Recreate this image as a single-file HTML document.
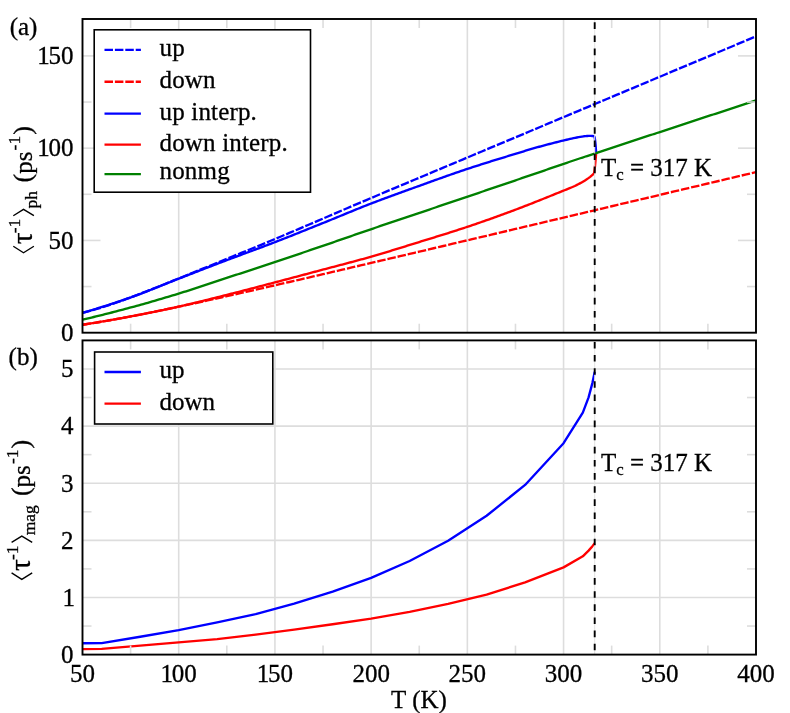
<!DOCTYPE html>
<html><head><meta charset="utf-8"><title>chart</title>
<style>html,body{margin:0;padding:0;background:#fff;}svg{display:block;font-family:"Liberation Serif",serif;will-change:transform;}text{font-family:"Liberation Serif",serif;fill:#000;stroke:#000;stroke-width:0.3px;}</style></head>
<body>
<svg width="790" height="713" viewBox="0 0 790 713">
<rect x="0" y="0" width="790" height="713" fill="#ffffff"/>
<defs>
<clipPath id="ca"><rect x="82.50" y="19.00" width="673.50" height="313.70"/></clipPath>
<clipPath id="cb"><rect x="82.50" y="340.40" width="673.50" height="314.20"/></clipPath>
</defs>
<g stroke="#dddddd" stroke-width="1.60" fill="none">
<line x1="178.71" y1="19.00" x2="178.71" y2="332.70"/>
<line x1="178.71" y1="340.40" x2="178.71" y2="654.60"/>
<line x1="274.93" y1="19.00" x2="274.93" y2="332.70"/>
<line x1="274.93" y1="340.40" x2="274.93" y2="654.60"/>
<line x1="371.14" y1="19.00" x2="371.14" y2="332.70"/>
<line x1="371.14" y1="340.40" x2="371.14" y2="654.60"/>
<line x1="467.36" y1="19.00" x2="467.36" y2="332.70"/>
<line x1="467.36" y1="340.40" x2="467.36" y2="654.60"/>
<line x1="563.57" y1="19.00" x2="563.57" y2="332.70"/>
<line x1="563.57" y1="340.40" x2="563.57" y2="654.60"/>
<line x1="659.79" y1="19.00" x2="659.79" y2="332.70"/>
<line x1="659.79" y1="340.40" x2="659.79" y2="654.60"/>
<line x1="82.50" y1="597.47" x2="756.00" y2="597.47"/>
<line x1="82.50" y1="540.35" x2="756.00" y2="540.35"/>
<line x1="82.50" y1="483.22" x2="756.00" y2="483.22"/>
<line x1="82.50" y1="426.09" x2="756.00" y2="426.09"/>
<line x1="82.50" y1="368.96" x2="756.00" y2="368.96"/>
</g>
<g clip-path="url(#ca)" fill="none" stroke-width="2.35" stroke-linejoin="round">
<path d="M82.50 312.76 L87.31 311.60 L92.12 310.33 L96.93 308.95 L101.74 307.49 L106.55 305.95 L111.36 304.35 L116.18 302.69 L120.99 300.98 L125.80 299.22 L130.61 297.44 L135.42 295.62 L140.23 293.77 L145.04 291.91 L149.85 290.02 L154.66 288.12 L159.47 286.20 L164.28 284.28 L169.09 282.34 L173.90 280.40 L178.71 278.45 L183.53 276.50 L188.34 274.54 L193.15 272.58 L197.96 270.62 L202.77 268.66 L207.58 266.70 L212.39 264.74 L217.20 262.78 L222.01 260.82 L226.82 258.86 L231.63 256.90 L236.44 254.93 L241.25 252.96 L246.06 250.99 L250.88 249.01 L255.69 247.03 L260.50 245.04 L265.31 243.04 L270.12 241.03 L274.93 239.02 L279.74 237.00 L284.55 234.97 L289.36 232.94 L294.17 230.89 L298.98 228.85 L303.79 226.79 L308.60 224.73 L313.41 222.67 L318.23 220.61 L323.04 218.55 L327.85 216.48 L332.66 214.42 L337.47 212.36 L342.28 210.30 L347.09 208.24 L351.90 206.19 L356.71 204.14 L361.52 202.09 L366.33 200.05 L371.14 198.01 L375.95 195.97 L380.76 193.94 L385.57 191.91 L390.39 189.88 L395.20 187.85 L400.01 185.82 L404.82 183.80 L409.63 181.78 L414.44 179.75 L419.25 177.73 L424.06 175.71 L428.87 173.69 L433.68 171.67 L438.49 169.65 L443.30 167.63 L448.11 165.61 L452.93 163.59 L457.74 161.57 L462.55 159.55 L467.36 157.53 L472.17 155.51 L476.98 153.49 L481.79 151.47 L486.60 149.45 L491.41 147.43 L496.22 145.42 L501.03 143.40 L505.84 141.38 L510.65 139.36 L515.46 137.34 L520.28 135.32 L525.09 133.30 L529.90 131.28 L534.71 129.26 L539.52 127.24 L544.33 125.22 L549.14 123.20 L553.95 121.18 L558.76 119.16 L563.57 117.15 L568.38 115.13 L573.19 113.11 L578.00 111.09 L582.81 109.07 L587.62 107.05 L592.44 105.03 L597.25 103.01 L602.06 100.99 L606.87 98.97 L611.68 96.95 L616.49 94.93 L621.30 92.91 L626.11 90.90 L630.92 88.88 L635.73 86.86 L640.54 84.84 L645.35 82.82 L650.16 80.80 L654.98 78.78 L659.79 76.76 L664.60 74.74 L669.41 72.72 L674.22 70.70 L679.03 68.68 L683.84 66.66 L688.65 64.64 L693.46 62.63 L698.27 60.61 L703.08 58.59 L707.89 56.57 L712.70 54.55 L717.51 52.53 L722.33 50.51 L727.14 48.49 L731.95 46.47 L736.76 44.45 L741.57 42.43 L746.38 40.41 L751.19 38.39 L756.00 36.38" stroke="#0000ff" stroke-dasharray="8.5 1.9"/>
<path d="M82.50 324.76 L87.31 324.02 L92.12 323.26 L96.93 322.47 L101.74 321.66 L106.55 320.84 L111.36 319.99 L116.18 319.13 L120.99 318.25 L125.80 317.35 L130.61 316.44 L135.42 315.52 L140.23 314.58 L145.04 313.63 L149.85 312.67 L154.66 311.70 L159.47 310.72 L164.28 309.73 L169.09 308.73 L173.90 307.72 L178.71 306.71 L183.53 305.68 L188.34 304.65 L193.15 303.62 L197.96 302.57 L202.77 301.53 L207.58 300.47 L212.39 299.41 L217.20 298.35 L222.01 297.28 L226.82 296.21 L231.63 295.13 L236.44 294.05 L241.25 292.97 L246.06 291.88 L250.88 290.80 L255.69 289.70 L260.50 288.61 L265.31 287.51 L270.12 286.41 L274.93 285.31 L279.74 284.20 L284.55 283.10 L289.36 281.99 L294.17 280.88 L298.98 279.77 L303.79 278.65 L308.60 277.54 L313.41 276.42 L318.23 275.31 L323.04 274.19 L327.85 273.07 L332.66 271.95 L337.47 270.83 L342.28 269.70 L347.09 268.58 L351.90 267.46 L356.71 266.33 L361.52 265.21 L366.33 264.08 L371.14 262.95 L375.95 261.82 L380.76 260.70 L385.57 259.57 L390.39 258.44 L395.20 257.31 L400.01 256.18 L404.82 255.05 L409.63 253.92 L414.44 252.79 L419.25 251.65 L424.06 250.52 L428.87 249.39 L433.68 248.26 L438.49 247.12 L443.30 245.99 L448.11 244.86 L452.93 243.72 L457.74 242.59 L462.55 241.46 L467.36 240.32 L472.17 239.19 L476.98 238.05 L481.79 236.92 L486.60 235.78 L491.41 234.65 L496.22 233.51 L501.03 232.38 L505.84 231.24 L510.65 230.11 L515.46 228.97 L520.28 227.84 L525.09 226.70 L529.90 225.57 L534.71 224.43 L539.52 223.29 L544.33 222.16 L549.14 221.02 L553.95 219.89 L558.76 218.75 L563.57 217.61 L568.38 216.48 L573.19 215.34 L578.00 214.20 L582.81 213.07 L587.62 211.93 L592.44 210.79 L597.25 209.66 L602.06 208.52 L606.87 207.39 L611.68 206.25 L616.49 205.11 L621.30 203.98 L626.11 202.84 L630.92 201.70 L635.73 200.57 L640.54 199.43 L645.35 198.29 L650.16 197.16 L654.98 196.02 L659.79 194.88 L664.60 193.74 L669.41 192.61 L674.22 191.47 L679.03 190.33 L683.84 189.20 L688.65 188.06 L693.46 186.92 L698.27 185.79 L703.08 184.65 L707.89 183.51 L712.70 182.38 L717.51 181.24 L722.33 180.10 L727.14 178.97 L731.95 177.83 L736.76 176.69 L741.57 175.55 L746.38 174.42 L751.19 173.28 L756.00 172.14" stroke="#ff0000" stroke-dasharray="8.5 1.9"/>
<path d="M82.50 312.77 L84.21 312.29 L85.92 311.79 L87.63 311.30 L89.34 310.80 L91.05 310.30 L92.76 309.79 L94.47 309.27 L96.18 308.75 L97.90 308.23 L99.61 307.71 L101.32 307.17 L103.03 306.64 L104.74 306.10 L106.45 305.56 L108.16 305.01 L109.87 304.46 L111.58 303.90 L113.29 303.34 L115.00 302.78 L116.71 302.21 L118.42 301.64 L120.13 301.06 L121.84 300.48 L123.55 299.90 L125.27 299.31 L126.98 298.72 L128.69 298.13 L130.40 297.53 L132.11 296.92 L133.82 296.31 L135.53 295.69 L137.24 295.06 L138.95 294.42 L140.66 293.78 L142.37 293.12 L144.08 292.47 L145.79 291.80 L147.50 291.13 L149.21 290.46 L150.92 289.78 L152.64 289.10 L154.35 288.42 L156.06 287.73 L157.77 287.05 L159.48 286.36 L161.19 285.67 L162.90 284.98 L164.61 284.29 L166.32 283.60 L168.03 282.91 L169.74 282.23 L171.45 281.54 L173.16 280.86 L174.87 280.19 L176.58 279.52 L178.29 278.85 L180.01 278.19 L181.72 277.53 L183.43 276.86 L185.14 276.20 L186.85 275.54 L188.56 274.88 L190.27 274.21 L191.98 273.55 L193.69 272.89 L195.40 272.23 L197.11 271.57 L198.82 270.91 L200.53 270.25 L202.24 269.59 L203.95 268.93 L205.66 268.27 L207.38 267.61 L209.09 266.95 L210.80 266.30 L212.51 265.64 L214.22 264.99 L215.93 264.33 L217.64 263.68 L219.35 263.02 L221.06 262.37 L222.77 261.72 L224.48 261.07 L226.19 260.42 L227.90 259.77 L229.61 259.12 L231.32 258.48 L233.03 257.84 L234.75 257.20 L236.46 256.56 L238.17 255.93 L239.88 255.29 L241.59 254.66 L243.30 254.02 L245.01 253.39 L246.72 252.76 L248.43 252.13 L250.14 251.50 L251.85 250.86 L253.56 250.23 L255.27 249.60 L256.98 248.96 L258.69 248.33 L260.40 247.69 L262.12 247.05 L263.83 246.41 L265.54 245.77 L267.25 245.12 L268.96 244.47 L270.67 243.82 L272.38 243.17 L274.09 242.51 L275.80 241.85 L277.51 241.19 L279.22 240.52 L280.93 239.86 L282.64 239.19 L284.35 238.51 L286.06 237.84 L287.77 237.16 L289.48 236.48 L291.20 235.81 L292.91 235.12 L294.62 234.44 L296.33 233.76 L298.04 233.07 L299.75 232.39 L301.46 231.70 L303.17 231.01 L304.88 230.32 L306.59 229.63 L308.30 228.94 L310.01 228.25 L311.72 227.56 L313.43 226.87 L315.14 226.18 L316.85 225.49 L318.57 224.80 L320.28 224.11 L321.99 223.42 L323.70 222.73 L325.41 222.04 L327.12 221.35 L328.83 220.66 L330.54 219.97 L332.25 219.27 L333.96 218.58 L335.67 217.88 L337.38 217.17 L339.09 216.47 L340.80 215.77 L342.51 215.06 L344.22 214.36 L345.94 213.66 L347.65 212.95 L349.36 212.25 L351.07 211.55 L352.78 210.85 L354.49 210.15 L356.20 209.46 L357.91 208.77 L359.62 208.08 L361.33 207.39 L363.04 206.71 L364.75 206.03 L366.46 205.35 L368.17 204.68 L369.88 204.02 L371.59 203.36 L373.31 202.70 L375.02 202.05 L376.73 201.40 L378.44 200.75 L380.15 200.10 L381.86 199.46 L383.57 198.82 L385.28 198.19 L386.99 197.55 L388.70 196.92 L390.41 196.29 L392.12 195.67 L393.83 195.04 L395.54 194.42 L397.25 193.79 L398.96 193.17 L400.68 192.55 L402.39 191.93 L404.10 191.31 L405.81 190.70 L407.52 190.08 L409.23 189.46 L410.94 188.85 L412.65 188.23 L414.36 187.62 L416.07 187.00 L417.78 186.38 L419.49 185.77 L421.20 185.15 L422.91 184.53 L424.62 183.91 L426.33 183.29 L428.05 182.68 L429.76 182.06 L431.47 181.44 L433.18 180.83 L434.89 180.21 L436.60 179.60 L438.31 178.99 L440.02 178.38 L441.73 177.77 L443.44 177.16 L445.15 176.55 L446.86 175.95 L448.57 175.35 L450.28 174.75 L451.99 174.15 L453.70 173.55 L455.41 172.96 L457.13 172.37 L458.84 171.78 L460.55 171.20 L462.26 170.62 L463.97 170.04 L465.68 169.47 L467.39 168.90 L469.10 168.34 L470.81 167.77 L472.52 167.21 L474.23 166.66 L475.94 166.10 L477.65 165.55 L479.36 165.01 L481.07 164.46 L482.78 163.92 L484.50 163.38 L486.21 162.84 L487.92 162.30 L489.63 161.77 L491.34 161.24 L493.05 160.70 L494.76 160.17 L496.47 159.65 L498.18 159.12 L499.89 158.59 L501.60 158.07 L503.31 157.54 L505.02 157.02 L506.73 156.50 L508.44 155.97 L510.15 155.45 L511.87 154.93 L513.58 154.41 L515.29 153.88 L517.00 153.36 L518.71 152.83 L520.42 152.31 L522.13 151.78 L523.84 151.26 L525.55 150.74 L527.26 150.23 L528.97 149.72 L530.68 149.21 L532.39 148.70 L534.10 148.21 L535.81 147.71 L537.52 147.23 L539.24 146.75 L540.95 146.28 L542.66 145.81 L544.37 145.35 L546.08 144.89 L547.79 144.44 L549.50 143.99 L551.21 143.54 L552.92 143.10 L554.63 142.67 L556.34 142.24 L558.05 141.81 L559.76 141.39 L561.47 140.98 L563.18 140.57 L564.89 140.16 L566.61 139.75 L568.32 139.35 L570.03 138.95 L571.74 138.56 L573.45 138.19 L575.16 137.83 L576.87 137.50 L578.58 137.17 L580.29 136.84 L582.00 136.54 L583.71 136.29 L585.42 136.14 L587.13 136.02 L588.84 135.93 L590.55 135.90 L592.26 135.98 L593.98 136.18 L594.65 137.10 L595.03 139.68 L595.61 145.22 L596.19 152.97" stroke="#0000ff"/>
<path d="M82.50 324.77 L84.21 324.50 L85.92 324.23 L87.63 323.96 L89.34 323.68 L91.05 323.41 L92.76 323.13 L94.47 322.85 L96.17 322.56 L97.88 322.28 L99.59 321.99 L101.30 321.70 L103.01 321.41 L104.72 321.12 L106.43 320.83 L108.14 320.53 L109.85 320.23 L111.56 319.93 L113.27 319.63 L114.98 319.33 L116.69 319.02 L118.40 318.71 L120.11 318.41 L121.81 318.09 L123.52 317.78 L125.23 317.47 L126.94 317.15 L128.65 316.84 L130.36 316.52 L132.07 316.20 L133.78 315.87 L135.49 315.55 L137.20 315.22 L138.91 314.90 L140.62 314.57 L142.33 314.23 L144.04 313.90 L145.75 313.56 L147.45 313.22 L149.16 312.88 L150.87 312.53 L152.58 312.19 L154.29 311.84 L156.00 311.49 L157.71 311.13 L159.42 310.78 L161.13 310.42 L162.84 310.06 L164.55 309.70 L166.26 309.33 L167.97 308.96 L169.68 308.60 L171.39 308.22 L173.09 307.85 L174.80 307.48 L176.51 307.10 L178.22 306.72 L179.93 306.33 L181.64 305.95 L183.35 305.56 L185.06 305.16 L186.77 304.77 L188.48 304.37 L190.19 303.96 L191.90 303.55 L193.61 303.14 L195.32 302.73 L197.03 302.32 L198.73 301.90 L200.44 301.48 L202.15 301.06 L203.86 300.64 L205.57 300.21 L207.28 299.79 L208.99 299.36 L210.70 298.93 L212.41 298.50 L214.12 298.07 L215.83 297.64 L217.54 297.21 L219.25 296.78 L220.96 296.35 L222.67 295.92 L224.37 295.49 L226.08 295.06 L227.79 294.63 L229.50 294.20 L231.21 293.76 L232.92 293.33 L234.63 292.89 L236.34 292.46 L238.05 292.02 L239.76 291.58 L241.47 291.14 L243.18 290.70 L244.89 290.26 L246.60 289.81 L248.31 289.37 L250.01 288.93 L251.72 288.48 L253.43 288.03 L255.14 287.59 L256.85 287.14 L258.56 286.69 L260.27 286.25 L261.98 285.80 L263.69 285.35 L265.40 284.90 L267.11 284.45 L268.82 284.00 L270.53 283.55 L272.24 283.10 L273.95 282.66 L275.65 282.21 L277.36 281.76 L279.07 281.31 L280.78 280.86 L282.49 280.40 L284.20 279.95 L285.91 279.50 L287.62 279.05 L289.33 278.59 L291.04 278.14 L292.75 277.69 L294.46 277.23 L296.17 276.78 L297.88 276.32 L299.59 275.86 L301.29 275.41 L303.00 274.95 L304.71 274.50 L306.42 274.04 L308.13 273.58 L309.84 273.13 L311.55 272.67 L313.26 272.21 L314.97 271.75 L316.68 271.30 L318.39 270.84 L320.10 270.38 L321.81 269.93 L323.52 269.47 L325.23 269.02 L326.93 268.57 L328.64 268.12 L330.35 267.67 L332.06 267.22 L333.77 266.77 L335.48 266.32 L337.19 265.87 L338.90 265.42 L340.61 264.97 L342.32 264.52 L344.03 264.07 L345.74 263.62 L347.45 263.16 L349.16 262.71 L350.87 262.25 L352.57 261.80 L354.28 261.34 L355.99 260.88 L357.70 260.41 L359.41 259.95 L361.12 259.48 L362.83 259.01 L364.54 258.53 L366.25 258.06 L367.96 257.58 L369.67 257.09 L371.38 256.61 L373.09 256.12 L374.80 255.62 L376.51 255.12 L378.21 254.62 L379.92 254.11 L381.63 253.60 L383.34 253.09 L385.05 252.58 L386.76 252.06 L388.47 251.54 L390.18 251.02 L391.89 250.49 L393.60 249.97 L395.31 249.44 L397.02 248.91 L398.73 248.38 L400.44 247.85 L402.15 247.32 L403.85 246.79 L405.56 246.26 L407.27 245.72 L408.98 245.19 L410.69 244.66 L412.40 244.13 L414.11 243.60 L415.82 243.07 L417.53 242.54 L419.24 242.01 L420.95 241.48 L422.66 240.96 L424.37 240.43 L426.08 239.90 L427.79 239.38 L429.49 238.85 L431.20 238.32 L432.91 237.80 L434.62 237.27 L436.33 236.74 L438.04 236.21 L439.75 235.68 L441.46 235.15 L443.17 234.62 L444.88 234.08 L446.59 233.55 L448.30 233.01 L450.01 232.47 L451.72 231.92 L453.43 231.38 L455.13 230.83 L456.84 230.28 L458.55 229.73 L460.26 229.18 L461.97 228.62 L463.68 228.06 L465.39 227.49 L467.10 226.92 L468.81 226.35 L470.52 225.77 L472.23 225.20 L473.94 224.62 L475.65 224.03 L477.36 223.45 L479.07 222.86 L480.77 222.26 L482.48 221.67 L484.19 221.07 L485.90 220.47 L487.61 219.87 L489.32 219.27 L491.03 218.66 L492.74 218.05 L494.45 217.43 L496.16 216.82 L497.87 216.20 L499.58 215.58 L501.29 214.96 L503.00 214.33 L504.71 213.71 L506.41 213.08 L508.12 212.44 L509.83 211.81 L511.54 211.17 L513.25 210.53 L514.96 209.89 L516.67 209.25 L518.38 208.60 L520.09 207.94 L521.80 207.29 L523.51 206.63 L525.22 205.97 L526.93 205.30 L528.64 204.64 L530.34 203.97 L532.05 203.30 L533.76 202.62 L535.47 201.94 L537.18 201.27 L538.89 200.59 L540.60 199.90 L542.31 199.22 L544.02 198.53 L545.73 197.85 L547.44 197.16 L549.15 196.47 L550.86 195.78 L552.57 195.09 L554.28 194.39 L555.98 193.70 L557.69 193.00 L559.40 192.31 L561.11 191.61 L562.82 190.92 L564.53 190.22 L566.24 189.54 L567.95 188.87 L569.66 188.18 L571.37 187.48 L573.08 186.74 L574.79 185.97 L576.50 185.15 L578.21 184.28 L579.92 183.37 L581.62 182.42 L583.33 181.43 L585.04 180.39 L586.75 179.30 L588.46 178.13 L590.17 176.86 L591.88 175.43 L593.59 173.82 L594.17 172.90 L595.03 166.07 L596.19 152.97" stroke="#ff0000"/>
<path d="M82.50 319.69 L84.75 319.16 L87.01 318.63 L89.26 318.09 L91.51 317.55 L93.76 317.00 L96.02 316.45 L98.27 315.90 L100.52 315.34 L102.77 314.77 L105.03 314.21 L107.28 313.64 L109.53 313.06 L111.78 312.49 L114.04 311.91 L116.29 311.32 L118.54 310.73 L120.79 310.14 L123.05 309.55 L125.30 308.95 L127.55 308.35 L129.80 307.74 L132.06 307.13 L134.31 306.52 L136.56 305.91 L138.81 305.29 L141.07 304.66 L143.32 304.03 L145.57 303.39 L147.82 302.76 L150.08 302.11 L152.33 301.46 L154.58 300.81 L156.83 300.15 L159.09 299.49 L161.34 298.83 L163.59 298.16 L165.84 297.49 L168.10 296.81 L170.35 296.13 L172.60 295.45 L174.85 294.76 L177.11 294.07 L179.36 293.38 L181.61 292.68 L183.86 291.98 L186.12 291.27 L188.37 290.55 L190.62 289.83 L192.87 289.10 L195.13 288.37 L197.38 287.63 L199.63 286.89 L201.88 286.15 L204.14 285.41 L206.39 284.66 L208.64 283.92 L210.89 283.17 L213.15 282.42 L215.40 281.67 L217.65 280.92 L219.90 280.18 L222.16 279.43 L224.41 278.69 L226.66 277.95 L228.91 277.21 L231.17 276.47 L233.42 275.73 L235.67 274.99 L237.92 274.25 L240.18 273.51 L242.43 272.77 L244.68 272.03 L246.93 271.29 L249.19 270.55 L251.44 269.81 L253.69 269.07 L255.94 268.32 L258.20 267.58 L260.45 266.83 L262.70 266.09 L264.95 265.34 L267.21 264.60 L269.46 263.85 L271.71 263.10 L273.96 262.35 L276.22 261.60 L278.47 260.84 L280.72 260.09 L282.97 259.34 L285.23 258.58 L287.48 257.82 L289.73 257.07 L291.98 256.31 L294.24 255.55 L296.49 254.79 L298.74 254.03 L300.99 253.27 L303.25 252.51 L305.50 251.75 L307.75 250.99 L310.00 250.22 L312.26 249.46 L314.51 248.69 L316.76 247.93 L319.01 247.16 L321.27 246.39 L323.52 245.62 L325.77 244.85 L328.02 244.08 L330.28 243.30 L332.53 242.53 L334.78 241.75 L337.03 240.97 L339.29 240.19 L341.54 239.41 L343.79 238.63 L346.04 237.85 L348.30 237.06 L350.55 236.28 L352.80 235.50 L355.05 234.72 L357.31 233.94 L359.56 233.16 L361.81 232.38 L364.06 231.61 L366.32 230.83 L368.57 230.06 L370.82 229.29 L373.07 228.52 L375.33 227.75 L377.58 226.99 L379.83 226.22 L382.08 225.46 L384.34 224.70 L386.59 223.94 L388.84 223.18 L391.09 222.42 L393.35 221.66 L395.60 220.90 L397.85 220.14 L400.10 219.39 L402.36 218.63 L404.61 217.87 L406.86 217.11 L409.11 216.36 L411.37 215.60 L413.62 214.84 L415.87 214.08 L418.12 213.32 L420.38 212.56 L422.63 211.80 L424.88 211.04 L427.13 210.28 L429.39 209.52 L431.64 208.76 L433.89 208.00 L436.14 207.24 L438.40 206.48 L440.65 205.72 L442.90 204.96 L445.15 204.20 L447.41 203.44 L449.66 202.68 L451.91 201.92 L454.16 201.16 L456.42 200.40 L458.67 199.64 L460.92 198.88 L463.17 198.12 L465.43 197.36 L467.68 196.59 L469.93 195.83 L472.18 195.07 L474.44 194.30 L476.69 193.54 L478.94 192.77 L481.19 192.01 L483.45 191.24 L485.70 190.48 L487.95 189.71 L490.20 188.95 L492.46 188.18 L494.71 187.41 L496.96 186.65 L499.21 185.88 L501.47 185.12 L503.72 184.35 L505.97 183.58 L508.22 182.82 L510.48 182.05 L512.73 181.29 L514.98 180.52 L517.23 179.76 L519.49 178.99 L521.74 178.23 L523.99 177.46 L526.24 176.70 L528.50 175.93 L530.75 175.17 L533.00 174.40 L535.25 173.63 L537.51 172.86 L539.76 172.09 L542.01 171.32 L544.26 170.54 L546.52 169.76 L548.77 168.97 L551.02 168.19 L553.27 167.40 L555.53 166.62 L557.78 165.84 L560.03 165.06 L562.28 164.29 L564.54 163.53 L566.79 162.77 L569.04 162.01 L571.29 161.25 L573.55 160.50 L575.80 159.75 L578.05 159.00 L580.30 158.25 L582.56 157.51 L584.81 156.76 L587.06 156.02 L589.31 155.27 L591.57 154.53 L593.82 153.78 L596.07 153.04 L598.32 152.29 L600.58 151.55 L602.83 150.81 L605.08 150.07 L607.33 149.33 L609.59 148.59 L611.84 147.85 L614.09 147.11 L616.34 146.37 L618.60 145.63 L620.85 144.89 L623.10 144.14 L625.35 143.40 L627.61 142.66 L629.86 141.92 L632.11 141.18 L634.36 140.43 L636.62 139.69 L638.87 138.95 L641.12 138.21 L643.37 137.47 L645.63 136.72 L647.88 135.98 L650.13 135.24 L652.38 134.50 L654.64 133.76 L656.89 133.01 L659.14 132.27 L661.39 131.53 L663.65 130.79 L665.90 130.05 L668.15 129.31 L670.40 128.57 L672.66 127.83 L674.91 127.09 L677.16 126.35 L679.41 125.61 L681.67 124.87 L683.92 124.13 L686.17 123.39 L688.42 122.65 L690.68 121.91 L692.93 121.17 L695.18 120.43 L697.43 119.69 L699.69 118.95 L701.94 118.21 L704.19 117.47 L706.44 116.72 L708.70 115.98 L710.95 115.24 L713.20 114.50 L715.45 113.76 L717.71 113.01 L719.96 112.27 L722.21 111.53 L724.46 110.79 L726.72 110.04 L728.97 109.30 L731.22 108.56 L733.47 107.81 L735.73 107.07 L737.98 106.33 L740.23 105.58 L742.48 104.84 L744.74 104.10 L746.99 103.35 L749.24 102.61 L751.49 101.87 L753.75 101.12 L756.00 100.38" stroke="#008000"/>
</g>
<g clip-path="url(#cb)" fill="none" stroke-width="2.35" stroke-linejoin="round">
<path d="M82.50 643.29 L101.74 643.17 L140.23 636.72 L178.71 630.04 L217.20 622.32 L255.69 614.04 L294.17 603.59 L332.66 591.52 L371.14 577.94 L409.63 560.97 L448.11 540.80 L486.60 515.78 L525.09 484.93 L563.57 443.23 L582.81 412.61 L588.59 397.40 L592.44 382.83 L594.74 371.82" stroke="#0000ff"/>
<path d="M82.50 649.12 L101.74 648.89 L140.23 645.63 L178.71 642.32 L217.20 639.06 L255.69 634.61 L294.17 629.69 L332.66 624.26 L371.14 618.61 L409.63 611.87 L448.11 603.87 L486.60 594.62 L525.09 582.33 L563.57 567.37 L582.81 556.34 L588.59 550.63 L592.44 546.15 L594.74 543.20" stroke="#ff0000"/>
</g>
<g stroke="#dddddd" stroke-width="1.60" fill="none">
<line x1="130.61" y1="19.00" x2="130.61" y2="28.00"/>
<line x1="130.61" y1="332.70" x2="130.61" y2="323.70"/>
<line x1="130.61" y1="340.40" x2="130.61" y2="349.40"/>
<line x1="130.61" y1="654.60" x2="130.61" y2="645.60"/>
<line x1="226.82" y1="19.00" x2="226.82" y2="28.00"/>
<line x1="226.82" y1="332.70" x2="226.82" y2="323.70"/>
<line x1="226.82" y1="340.40" x2="226.82" y2="349.40"/>
<line x1="226.82" y1="654.60" x2="226.82" y2="645.60"/>
<line x1="323.04" y1="19.00" x2="323.04" y2="28.00"/>
<line x1="323.04" y1="332.70" x2="323.04" y2="323.70"/>
<line x1="323.04" y1="340.40" x2="323.04" y2="349.40"/>
<line x1="323.04" y1="654.60" x2="323.04" y2="645.60"/>
<line x1="419.25" y1="19.00" x2="419.25" y2="28.00"/>
<line x1="419.25" y1="332.70" x2="419.25" y2="323.70"/>
<line x1="419.25" y1="340.40" x2="419.25" y2="349.40"/>
<line x1="419.25" y1="654.60" x2="419.25" y2="645.60"/>
<line x1="515.46" y1="19.00" x2="515.46" y2="28.00"/>
<line x1="515.46" y1="332.70" x2="515.46" y2="323.70"/>
<line x1="515.46" y1="340.40" x2="515.46" y2="349.40"/>
<line x1="515.46" y1="654.60" x2="515.46" y2="645.60"/>
<line x1="611.68" y1="19.00" x2="611.68" y2="28.00"/>
<line x1="611.68" y1="332.70" x2="611.68" y2="323.70"/>
<line x1="611.68" y1="340.40" x2="611.68" y2="349.40"/>
<line x1="611.68" y1="654.60" x2="611.68" y2="645.60"/>
<line x1="707.89" y1="19.00" x2="707.89" y2="28.00"/>
<line x1="707.89" y1="332.70" x2="707.89" y2="323.70"/>
<line x1="707.89" y1="340.40" x2="707.89" y2="349.40"/>
<line x1="707.89" y1="654.60" x2="707.89" y2="645.60"/>
<line x1="82.50" y1="240.44" x2="100.50" y2="240.44"/>
<line x1="756.00" y1="240.44" x2="738.00" y2="240.44"/>
<line x1="82.50" y1="148.17" x2="100.50" y2="148.17"/>
<line x1="756.00" y1="148.17" x2="738.00" y2="148.17"/>
<line x1="82.50" y1="55.91" x2="100.50" y2="55.91"/>
<line x1="756.00" y1="55.91" x2="738.00" y2="55.91"/>
<line x1="82.50" y1="286.57" x2="91.50" y2="286.57"/>
<line x1="756.00" y1="286.57" x2="747.00" y2="286.57"/>
<line x1="82.50" y1="194.30" x2="91.50" y2="194.30"/>
<line x1="756.00" y1="194.30" x2="747.00" y2="194.30"/>
<line x1="82.50" y1="102.04" x2="91.50" y2="102.04"/>
<line x1="756.00" y1="102.04" x2="747.00" y2="102.04"/>
<line x1="82.50" y1="626.04" x2="91.50" y2="626.04"/>
<line x1="756.00" y1="626.04" x2="747.00" y2="626.04"/>
<line x1="82.50" y1="568.91" x2="91.50" y2="568.91"/>
<line x1="756.00" y1="568.91" x2="747.00" y2="568.91"/>
<line x1="82.50" y1="511.78" x2="91.50" y2="511.78"/>
<line x1="756.00" y1="511.78" x2="747.00" y2="511.78"/>
<line x1="82.50" y1="454.65" x2="91.50" y2="454.65"/>
<line x1="756.00" y1="454.65" x2="747.00" y2="454.65"/>
<line x1="82.50" y1="397.53" x2="91.50" y2="397.53"/>
<line x1="756.00" y1="397.53" x2="747.00" y2="397.53"/>
</g>
<g stroke="#e2e2e2" stroke-width="1" fill="none">
<line x1="594.70" y1="19.00" x2="594.70" y2="332.70"/>
<line x1="594.70" y1="340.40" x2="594.70" y2="654.60"/>
</g>
<g stroke="#000" stroke-width="1.9" fill="none" stroke-dasharray="6.6 6.52">
<line x1="594.70" y1="22.30" x2="594.70" y2="332.70"/>
<line x1="594.70" y1="341.90" x2="594.70" y2="654.60"/>
</g>
<g stroke="#000" stroke-width="1.90" fill="none">
<rect x="82.50" y="19.00" width="673.50" height="313.70"/>
<rect x="82.50" y="340.40" width="673.50" height="314.20"/>
</g>
<rect x="94.2" y="29.8" width="216.3" height="162.4" fill="#fff" stroke="#000" stroke-width="1.60"/>
<line x1="104.5" y1="49.80" x2="140.9" y2="49.80" stroke="#0000ff" stroke-width="2.35" stroke-dasharray="8.5 1.9"/>
<text x="159.5" y="55.80" font-size="25" letter-spacing="0.17">up</text>
<line x1="104.5" y1="81.70" x2="140.9" y2="81.70" stroke="#ff0000" stroke-width="2.35" stroke-dasharray="8.5 1.9"/>
<text x="159.5" y="87.70" font-size="25" letter-spacing="0.17">down</text>
<line x1="104.5" y1="113.60" x2="140.9" y2="113.60" stroke="#0000ff" stroke-width="2.35"/>
<text x="159.5" y="119.60" font-size="25" letter-spacing="0.17">up interp.</text>
<line x1="104.5" y1="144.60" x2="140.9" y2="144.60" stroke="#ff0000" stroke-width="2.35"/>
<text x="159.5" y="150.60" font-size="25" letter-spacing="0.17">down interp.</text>
<line x1="104.5" y1="174.10" x2="140.9" y2="174.10" stroke="#008000" stroke-width="2.35"/>
<text x="159.5" y="178.50" font-size="25" letter-spacing="0.17">nonmg</text>
<rect x="94.6" y="352.0" width="178.2" height="72.0" fill="#fff" stroke="#000" stroke-width="1.60"/>
<line x1="104.5" y1="372.00" x2="140.9" y2="372.00" stroke="#0000ff" stroke-width="2.35"/>
<text x="159.5" y="378.00" font-size="25">up</text>
<line x1="104.5" y1="403.60" x2="140.9" y2="403.60" stroke="#ff0000" stroke-width="2.35"/>
<text x="159.5" y="409.60" font-size="25">down</text>
<g font-size="25">
<text x="73.6" y="341.00" text-anchor="end">0</text>
<text x="73.6" y="248.74" text-anchor="end">50</text>
<text x="73.6" y="156.47" text-anchor="end">1<tspan dx="-1.2">00</tspan></text>
<text x="73.6" y="64.21" text-anchor="end">1<tspan dx="-1.2">50</tspan></text>
<text x="73.6" y="662.90" text-anchor="end">0</text>
<text x="75.1" y="605.77" text-anchor="end">1</text>
<text x="73.6" y="548.65" text-anchor="end">2</text>
<text x="73.6" y="491.52" text-anchor="end">3</text>
<text x="73.6" y="434.39" text-anchor="end">4</text>
<text x="73.6" y="377.26" text-anchor="end">5</text>
<text x="82.50" y="681.6" text-anchor="middle">50</text>
<text x="178.71" y="681.6" text-anchor="middle">1<tspan dx="-1.2">00</tspan></text>
<text x="274.93" y="681.6" text-anchor="middle">1<tspan dx="-1.2">50</tspan></text>
<text x="371.14" y="681.6" text-anchor="middle">200</text>
<text x="467.36" y="681.6" text-anchor="middle">250</text>
<text x="563.57" y="681.6" text-anchor="middle">300</text>
<text x="659.79" y="681.6" text-anchor="middle">350</text>
<text x="756.00" y="681.6" text-anchor="middle">400</text>
<text x="419.0" y="707.8" text-anchor="middle">T (K)</text>
<text x="9.7" y="34.9">(a)</text>
<text x="8.6" y="364.7">(b)</text>
<text x="601.0" y="176.0">T<tspan font-size="16.8" dy="4.4">c</tspan><tspan dy="-4.4"> = 317 K</tspan></text>
<text x="601.0" y="470.7">T<tspan font-size="16.8" dy="4.4">c</tspan><tspan dy="-4.4"> = 317 K</tspan></text>
<g transform="translate(31.90,253.50) rotate(-90)"><polyline points="7.3,-18.6 0.8,-8.4 7.3,2.0" fill="none" stroke="#000" stroke-width="1.35"/><text x="9.2" y="0" font-size="29.5">τ</text><text x="20.2" y="-12.0" font-size="17.5">-1</text><polyline points="37.8,-18.6 44.1,-8.4 37.8,2.0" fill="none" stroke="#000" stroke-width="1.35"/><text x="44.90" y="4.9" font-size="17.5">ph</text><text x="71.10" y="-1.2" font-size="26">(</text><text x="79.70" y="0" font-size="25">ps</text><text x="103.10" y="-12.0" font-size="17.5">-1</text><text x="118.80" y="-1.2" font-size="26">)</text></g>
<g transform="translate(30.20,580.20) rotate(-90)"><polyline points="7.3,-18.6 0.8,-8.4 7.3,2.0" fill="none" stroke="#000" stroke-width="1.35"/><text x="9.2" y="0" font-size="29.5">τ</text><text x="20.2" y="-12.0" font-size="17.5">-1</text><polyline points="37.8,-18.6 44.1,-8.4 37.8,2.0" fill="none" stroke="#000" stroke-width="1.35"/><text x="44.90" y="4.9" font-size="17.5">mag</text><text x="84.10" y="-1.2" font-size="26">(</text><text x="92.70" y="0" font-size="25">ps</text><text x="116.10" y="-12.0" font-size="17.5">-1</text><text x="131.80" y="-1.2" font-size="26">)</text></g>
</g>
</svg>
</body></html>
